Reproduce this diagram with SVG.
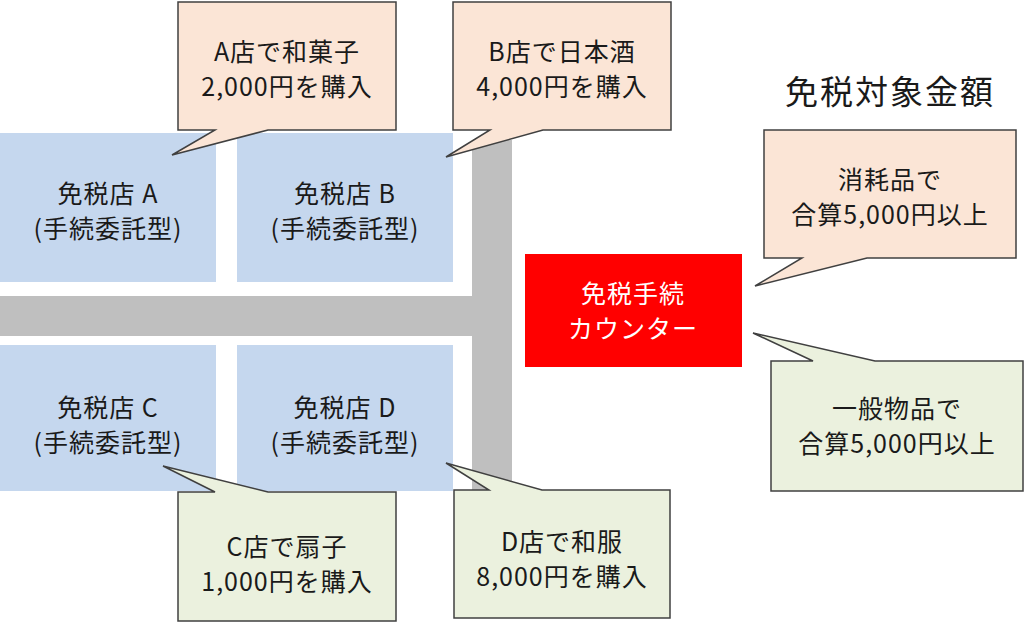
<svg xmlns="http://www.w3.org/2000/svg" width="1024" height="623" viewBox="0 0 1024 623">
<style>
.t{font-family:"Noto Sans CJK JP","Noto Sans",sans-serif;font-size:25px;letter-spacing:1px;fill:#1a1a1a;text-anchor:middle}
.store{fill:#C5D7EE}
.road{fill:#BFBFBF}
.co1{fill:#FBE5D6;stroke:#404040;stroke-width:1.5}
.co2{fill:#EBF1DE;stroke:#404040;stroke-width:1.5}
</style>
<rect width="1024" height="623" fill="#fff"/>
<g id="roads">
<rect class="road" x="472" y="140" width="40" height="352"/>
<rect class="road" x="0" y="296" width="512" height="40"/>
</g>
<g id="storeA"><rect class="store" x="0" y="133" width="216" height="149"/><text class="t" x="108" y="203">免税店 A</text><text class="t" x="108" y="238">(手続委託型)</text></g>
<g id="storeB"><rect class="store" x="237" y="133" width="216" height="149"/><text class="t" x="345" y="203">免税店 B</text><text class="t" x="345" y="238">(手続委託型)</text></g>
<g id="storeC"><rect class="store" x="0" y="345" width="216" height="146"/><text class="t" x="108" y="417">免税店 C</text><text class="t" x="108" y="452">(手続委託型)</text></g>
<g id="storeD"><rect class="store" x="237" y="345" width="216" height="146"/><text class="t" x="345" y="417">免税店 D</text><text class="t" x="345" y="452">(手続委託型)</text></g>
<g id="counter"><rect x="525" y="254" width="217" height="113" fill="#FF0000"/><text class="t" x="633" y="303" style="fill:#fff">免税手続</text><text class="t" x="633" y="338" style="fill:#fff">カウンター</text></g>
<g id="title"><text class="t" x="890" y="104" style="font-size:33px;letter-spacing:2px">免税対象金額</text></g>
<g id="connectors">
<g id="calloutA"><path class="co1" d="M178,2 H396 V130 H268 L172,155 L215,130 H178 Z"/><text class="t" x="287" y="61">A店で和菓子</text><text class="t" x="287" y="96">2,000円を購入</text></g>
<g id="calloutB"><path class="co1" d="M453,2 H671 V130 H543 L446,157 L490,130 H453 Z"/><text class="t" x="562" y="61">B店で日本酒</text><text class="t" x="562" y="96">4,000円を購入</text></g>
<g id="calloutConsumable"><path class="co1" d="M764,130 H1016 V258 H867 L755,286 L802,258 H764 Z"/><text class="t" x="890" y="189">消耗品で</text><text class="t" x="890" y="224">合算5,000円以上</text></g>
<g id="calloutGeneral"><path class="co2" d="M771,361 H813 L753,333 L875,361 H1023 V491 H771 Z"/><text class="t" x="897" y="418">一般物品で</text><text class="t" x="897" y="453">合算5,000円以上</text></g>
<g id="calloutC"><path class="co2" d="M178,492 H215 L163,466 L268,492 H396 V621 H178 Z"/><text class="t" x="287" y="556">C店で扇子</text><text class="t" x="287" y="591">1,000円を購入</text></g>
<g id="calloutD"><path class="co2" d="M454,490 H489 L446,463 L542,490 H670 V618 H454 Z"/><text class="t" x="562" y="551">D店で和服</text><text class="t" x="562" y="586">8,000円を購入</text></g>
</g>
</svg>
